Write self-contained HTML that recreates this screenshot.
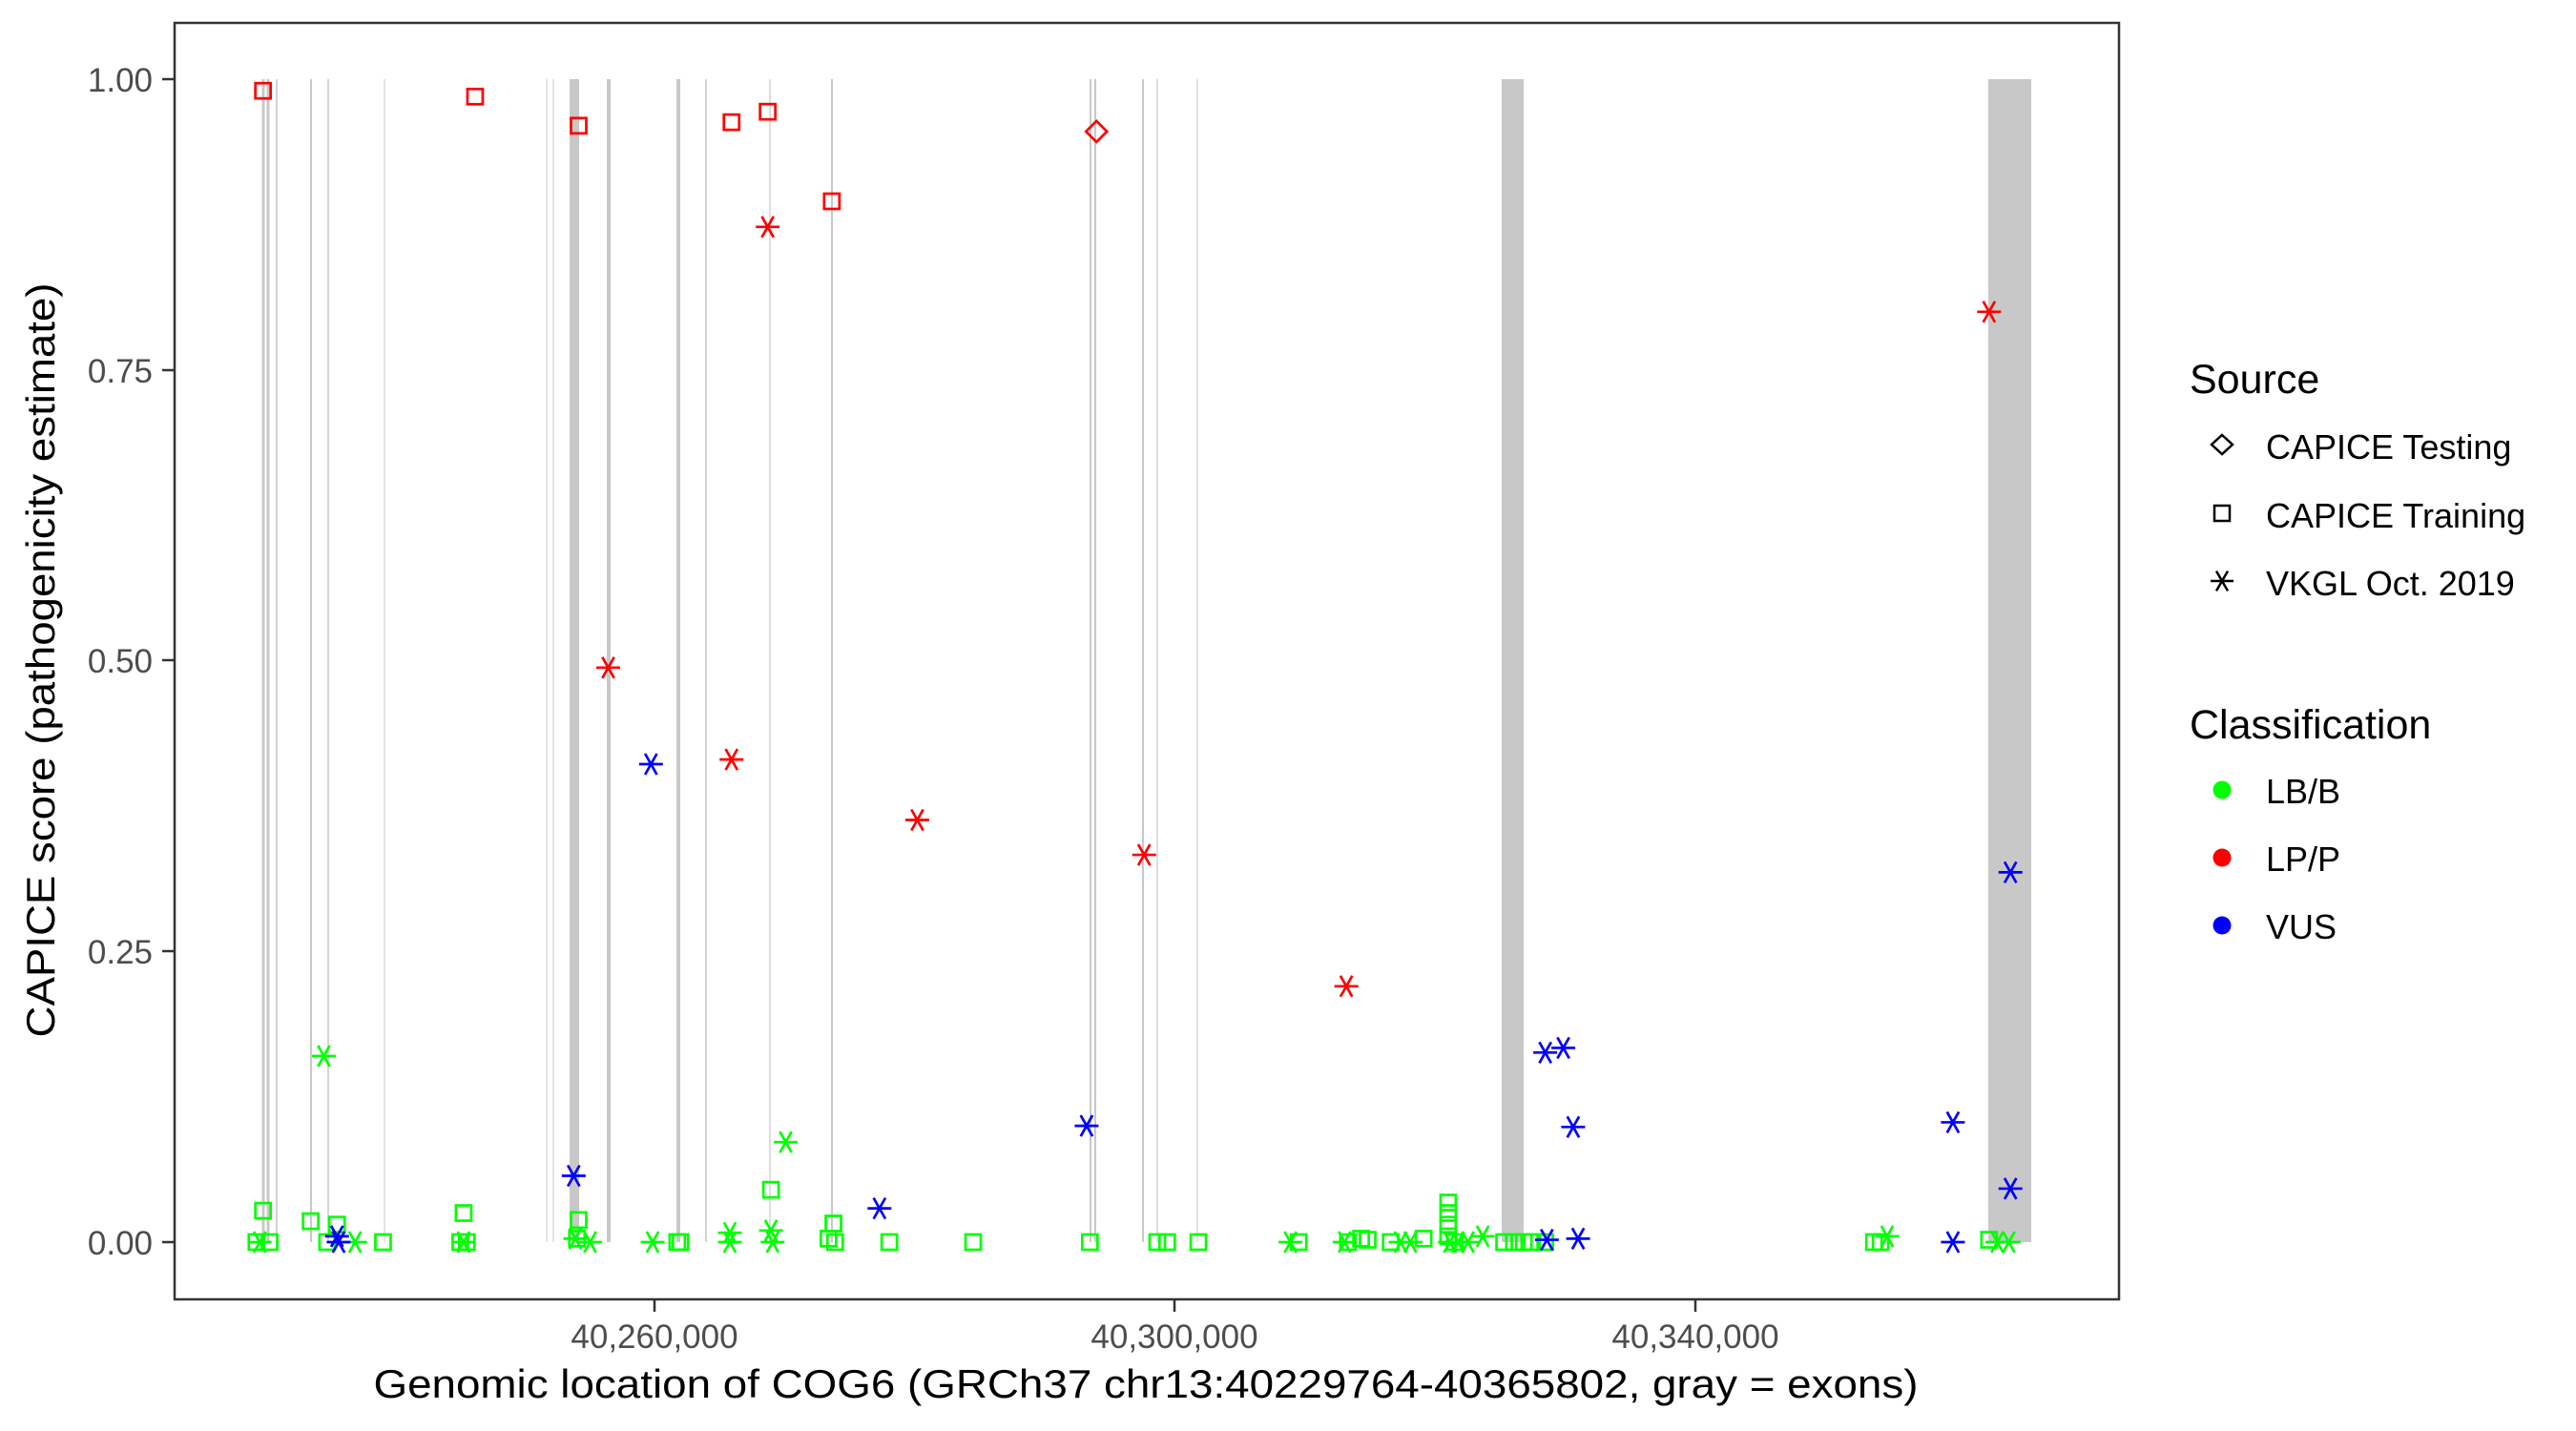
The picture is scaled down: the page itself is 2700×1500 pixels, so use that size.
<!DOCTYPE html>
<html><head><meta charset="utf-8"><style>
html,body{margin:0;padding:0;background:#fff;}
svg{display:block;font-family:"Liberation Sans",Arial,sans-serif;}
</style></head><body>
<svg id="s" width="2700" height="1500" viewBox="0 0 2700 1500" xmlns="http://www.w3.org/2000/svg">
<rect width="2700" height="1500" fill="#fff"/>
<g id="ex"></g>
<g id="pts"></g>
<rect x="183" y="24" width="2038" height="1338" fill="none" stroke="#333" stroke-width="2.5"/>
<g stroke="#333" stroke-width="2.5">
<line x1="170" y1="83" x2="183" y2="83"/><line x1="170" y1="388" x2="183" y2="388"/>
<line x1="170" y1="692" x2="183" y2="692"/><line x1="170" y1="997" x2="183" y2="997"/>
<line x1="170" y1="1302" x2="183" y2="1302"/>
<line x1="686" y1="1362" x2="686" y2="1375"/><line x1="1231" y1="1362" x2="1231" y2="1375"/>
<line x1="1777" y1="1362" x2="1777" y2="1375"/>
</g>
<g fill="#4d4d4d" font-size="35" text-anchor="end">
<text x="160" y="96">1.00</text><text x="160" y="401">0.75</text><text x="160" y="705">0.50</text>
<text x="160" y="1010">0.25</text><text x="160" y="1315">0.00</text>
</g>
<g fill="#4d4d4d" font-size="35" text-anchor="middle">
<text x="686" y="1413">40,260,000</text><text x="1231" y="1413">40,300,000</text><text x="1777" y="1413">40,340,000</text>
</g>
<text x="1201" y="1465" font-size="42" text-anchor="middle" textLength="1619" lengthAdjust="spacingAndGlyphs">Genomic location of COG6 (GRCh37 chr13:40229764-40365802, gray = exons)</text>
<text transform="translate(57,692) rotate(-90)" font-size="42" text-anchor="middle" textLength="791" lengthAdjust="spacingAndGlyphs">CAPICE score (pathogenicity estimate)</text>
<g font-size="43"><text x="2295" y="412">Source</text><text x="2295" y="774">Classification</text></g>
<g font-size="36">
<text x="2375" y="481">CAPICE Testing</text><text x="2375" y="553">CAPICE Training</text><text x="2375" y="624">VKGL Oct. 2019</text>
<text x="2375" y="842">LB/B</text><text x="2375" y="913">LP/P</text><text x="2375" y="984">VUS</text>
</g>
<g fill="none" stroke="#000" stroke-width="2.5">
<polygon points="2329,456 2340,466 2329,476 2318,466"/>
<rect x="2321" y="530" width="16" height="16"/>
<g transform="translate(2329,609)"><line x1="-12" y1="0" x2="12" y2="0"/><line x1="-6" y1="-10.4" x2="6" y2="10.4"/><line x1="-6" y1="10.4" x2="6" y2="-10.4"/></g>
</g>
<circle cx="2329" cy="828" r="9.5" fill="#00ff00"/>
<circle cx="2329" cy="899" r="9.5" fill="#ff0000"/>
<circle cx="2329" cy="970" r="9.5" fill="#0000ff"/>
</svg>
<script>
var NS="http://www.w3.org/2000/svg";
function el(t,a,p){var e=document.createElementNS(NS,t);for(var k in a)e.setAttribute(k,a[k]);p.appendChild(e);return e;}
var ex=document.getElementById("ex"),P=document.getElementById("pts");
var Y0=1302,YS=1219;
var lines=[[276,3,"#c8c8c8"],[281,3,"#c8c8c8"],[290,2,"#d4d4d4"],[326,2,"#c8c8c8"],[344,2,"#d4d4d4"],[403,1.5,"#dcdcdc"],
[573,1.5,"#dcdcdc"],[580,1.5,"#dcdcdc"],[597,10,"#c8c8c8"],[638,4,"#c8c8c8"],[711,4,"#c8c8c8"],[740,2,"#d4d4d4"],[807,1.5,"#d4d4d4"],[872,2,"#c8c8c8"],
[1143,2,"#c8c8c8"],[1148,2,"#c8c8c8"],[1198,2,"#c8c8c8"],[1213,1.5,"#d4d4d4"],[1255,1.5,"#dcdcdc"],[1574,23,"#c8c8c8"],[2084,45,"#c8c8c8"]];
lines.forEach(function(l){el("rect",{x:l[0]-(l[1]>5?0:l[1]/2),y:83,width:l[1],height:Y0-83,fill:l[2]},ex);});
var C={g:"#00ff00",r:"#ff0000",b:"#0000ff"};
function X(d){return d*1.723;}
function sq(d,v,c){el("rect",{x:X(d)-8,y:Y0-v*YS-8,width:16,height:16,fill:"none",stroke:C[c],"stroke-width":2.7},P);}
function st(d,v,c){var x=X(d),y=Y0-v*YS,g=el("g",{transform:"translate("+x+","+y+")",stroke:C[c],"stroke-width":2.7},P);
el("line",{x1:-12.5,y1:0,x2:12.5,y2:0},g);el("line",{x1:-6.2,y1:-11,x2:6.2,y2:11},g);el("line",{x1:-6.2,y1:11,x2:6.2,y2:-11},g);}
function dm(d,v,c){var x=X(d),y=Y0-v*YS;el("polygon",{points:(x)+","+(y-11)+" "+(x+11)+","+y+" "+x+","+(y+11)+" "+(x-11)+","+y,fill:"none",stroke:C[c],"stroke-width":2.7},P);}
[[160,.027],[189,.018],[205,.015],[199,0],[164,0],[156,0],[233,0],[282,.025],[280,0],[284,0],[352,.019],[351,.003],[412,0],[414,0],[469,.045],[504,.003],[507,.016],[508,0],[541,0],[592,0],[663,0],[704,0],[710,0],[729,0],[790,0],[820,0],[828,.003],[832,.002],[846,0],[866,.003],[881,.034],[881,.025],[881,.015],[881,.005],[885,0],[915,0],[921,0],[927,0],[932,0],[940,0],[1140,0],[1144,0],[1210,.002]].forEach(function(p){sq(p[0],p[1],"g");});
[[197,.160],[478,.086],[158,0],[216,0],[282,0],[350,.003],[359,0],[397,0],[444,.008],[444,0],[469,.01],[470,0],[785,0],[818,0],[852,0],[858,0],[882,0],[887,0],[893,0],[902,.005],[1148,.005],[1215,0],[1222,0]].forEach(function(p){st(p[0],p[1],"g");});
[[160,.99],[289,.985],[352,.96],[445,.963],[467,.972],[506,.895]].forEach(function(p){sq(p[0],p[1],"r");});
dm(667,.955,"r");
[[467,.873],[370,.494],[445,.415],[558,.363],[696,.333],[819,.220],[1210,.80]].forEach(function(p){st(p[0],p[1],"r");});
[[396,.411],[349,.057],[535,.029],[661,.100],[940,.163],[951,.167],[957,.099],[1188,.103],[1223,.318],[1223,.046],[205,.005],[206,0],[941,.002],[960,.003],[1188,0]].forEach(function(p){st(p[0],p[1],"b");});
</script>
</body></html>
